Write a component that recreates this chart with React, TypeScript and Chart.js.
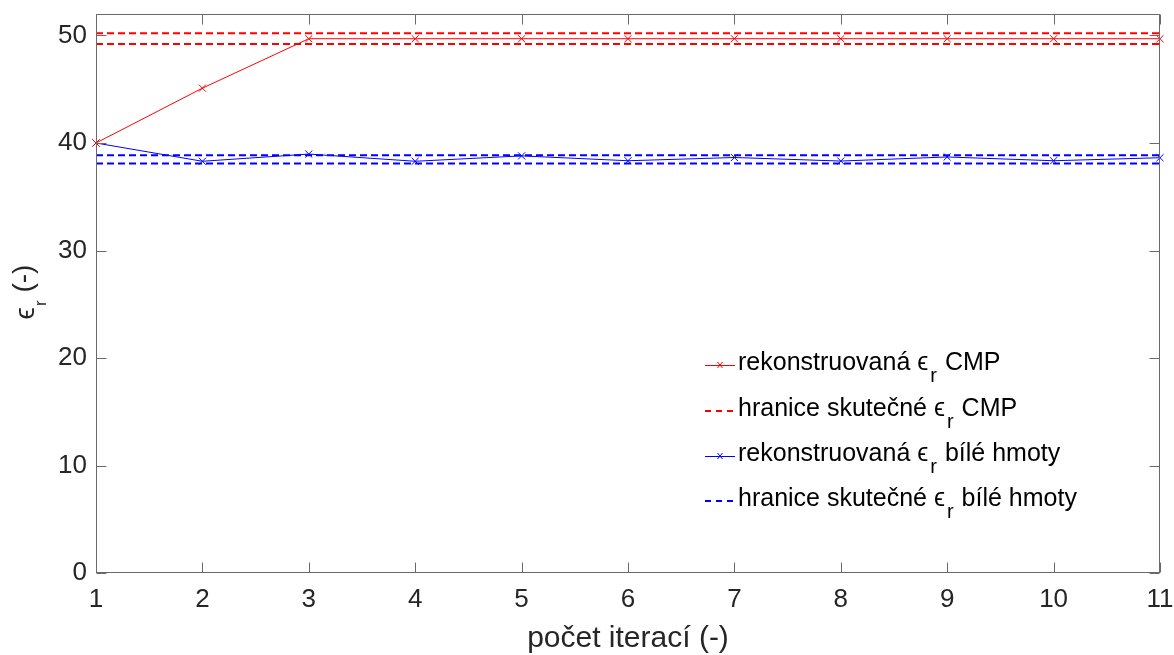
import React, { useEffect, useRef } from "react";
import { Chart, registerables } from "chart.js";
Chart.register(...registerables);

// ---- data ----
const iterations = [1, 2, 3, 4, 5, 6, 7, 8, 9, 10, 11];
const cmpReconstructed = [40, 45.1, 49.7, 49.7, 49.7, 49.7, 49.7, 49.7, 49.7, 49.7, 49.7];
const whiteReconstructed = [40, 38.3, 38.97, 38.3, 38.8, 38.35, 38.65, 38.32, 38.7, 38.35, 38.63];
const cmpBounds = [49.2, 50.2];
const whiteBounds = [38.1, 38.85];
const yTickValues = [0, 10, 20, 30, 40, 50];
const xTickValues = [1, 2, 3, 4, 5, 6, 7, 8, 9, 10, 11];
const xTitle = "počet iterací (-)";
const legendTexts = [
  ["rekonstruovaná ", " CMP"],
  ["hranice skutečné ", " CMP"],
  ["rekonstruovaná ", " bílé hmoty"],
  ["hranice skutečné ", " bílé hmoty"],
];

const RED = "rgb(255,0,0)";
const BLUE = "rgb(0,0,255)";
const FONT = '"Liberation Sans", Arial, Helvetica, sans-serif';
const TEXT = "#262626";
const AXIS = "#6a6a6a";

const boundLine = (value: number) => [
  { x: iterations[0], y: value },
  { x: iterations[iterations.length - 1], y: value },
];

const decorPlugin = {
  id: "decor",
  afterDraw(chart: any) {
    const { ctx, chartArea: a, scales } = chart;
    ctx.save();
    // frame
    ctx.strokeStyle = AXIS;
    ctx.lineWidth = 1;
    const L = Math.round(a.left) + 0.5;
    const R = Math.round(a.right) - 0.5;
    const T = Math.round(a.top) + 0.5;
    const B = Math.round(a.bottom) - 0.5;
    ctx.strokeRect(L, T, R - L, B - T);
    // inward ticks
    ctx.beginPath();
    for (const v of xTickValues) {
      const px = Math.round(scales.x.getPixelForValue(v)) + 0.5;
      ctx.moveTo(px, B);
      ctx.lineTo(px, B - 10);
      ctx.moveTo(px, T);
      ctx.lineTo(px, T + 10);
    }
    for (const v of yTickValues) {
      const py = Math.round(scales.y.getPixelForValue(v)) + 0.5;
      ctx.moveTo(L, py);
      ctx.lineTo(L + 10, py);
      ctx.moveTo(R, py);
      ctx.lineTo(R - 10, py);
    }
    ctx.stroke();

    // x title
    ctx.fillStyle = TEXT;
    ctx.font = `30px ${FONT}`;
    ctx.textAlign = "center";
    ctx.textBaseline = "alphabetic";
    ctx.fillText(xTitle, (a.left + a.right) / 2, 647);

    // y title (rotated): ϵ_r (-)
    ctx.save();
    ctx.translate(32, 292);
    ctx.rotate(-Math.PI / 2);
    ctx.textAlign = "left";
    const mainF = `28px ${FONT}`;
    const subF = `17px ${FONT}`;
    ctx.font = mainF;
    const wEps = ctx.measureText("ϵ").width;
    const wRest = ctx.measureText(" (-)").width;
    ctx.font = subF;
    const wR = ctx.measureText("r").width;
    const total = wEps + 1 + wR + wRest;
    let x = -total / 2;
    ctx.font = mainF;
    ctx.fillText("ϵ", x, 2);
    x += wEps + 1;
    ctx.font = subF;
    ctx.fillText("r", x, 14);
    x += wR;
    ctx.font = mainF;
    ctx.fillText(" (-)", x, 0);
    ctx.restore();

    // legend
    const rowsY = [365, 411, 456, 501];
    const colors = [RED, RED, BLUE, BLUE];
    const dashed = [false, true, false, true];
    for (let i = 0; i < 4; i++) {
      const y = rowsY[i];
      ctx.strokeStyle = colors[i];
      if (dashed[i]) {
        ctx.lineWidth = 2;
        ctx.setLineDash([6, 5]);
        ctx.beginPath();
        ctx.moveTo(705, y);
        ctx.lineTo(735, y);
        ctx.stroke();
        ctx.setLineDash([]);
      } else {
        ctx.lineWidth = 1;
        ctx.beginPath();
        ctx.moveTo(705, y + 0.5);
        ctx.lineTo(735, y + 0.5);
        ctx.stroke();
        ctx.beginPath();
        ctx.moveTo(717.5, y - 3);
        ctx.lineTo(722.5, y + 3);
        ctx.moveTo(722.5, y - 3);
        ctx.lineTo(717.5, y + 3);
        ctx.stroke();
      }
      ctx.fillStyle = "#000";
      ctx.textAlign = "left";
      ctx.textBaseline = "alphabetic";
      let tx = 738;
      const base = y + 5;
      ctx.font = `25px ${FONT}`;
      ctx.fillText(legendTexts[i][0], tx, base);
      tx += ctx.measureText(legendTexts[i][0]).width;
      ctx.fillText("ϵ", tx, base);
      tx += ctx.measureText("ϵ").width + 2;
      ctx.font = `20px ${FONT}`;
      ctx.fillText("r", tx, base + 12);
      tx += ctx.measureText("r").width + 1;
      ctx.font = `25px ${FONT}`;
      ctx.fillText(legendTexts[i][1], tx, base);
    }
    ctx.restore();
  },
};

export default function App() {
  const ref = useRef<HTMLCanvasElement | null>(null);
  useEffect(() => {
    if (!ref.current) return;
    const chart = new Chart(ref.current, {
      type: "line",
      data: {
        datasets: [
          {
            label: "rekonstruovaná CMP",
            data: iterations.map((x, i) => ({ x, y: cmpReconstructed[i] })),
            borderColor: RED,
            backgroundColor: RED,
            borderWidth: 1,
            pointStyle: "crossRot",
            pointRadius: 5,
            pointBorderWidth: 1,
            pointBorderColor: RED,
            tension: 0,
            clip: 6,
          },
          {
            label: "hranice CMP horní",
            data: boundLine(cmpBounds[1]),
            borderColor: RED,
            borderWidth: 2,
            borderDash: [7, 4],
            pointRadius: 0,
          },
          {
            label: "hranice CMP dolní",
            data: boundLine(cmpBounds[0]),
            borderColor: RED,
            borderWidth: 2,
            borderDash: [7, 4],
            pointRadius: 0,
          },
          {
            label: "rekonstruovaná bílé hmoty",
            data: iterations.map((x, i) => ({ x, y: whiteReconstructed[i] })),
            borderColor: BLUE,
            backgroundColor: BLUE,
            borderWidth: 1,
            pointStyle: "crossRot",
            pointRadius: 5,
            pointBorderWidth: 1,
            pointBorderColor: BLUE,
            tension: 0,
            clip: 6,
          },
          {
            label: "hranice bílé horní",
            data: boundLine(whiteBounds[1]),
            borderColor: BLUE,
            borderWidth: 2,
            borderDash: [7, 4],
            pointRadius: 0,
          },
          {
            label: "hranice bílé dolní",
            data: boundLine(whiteBounds[0]),
            borderColor: BLUE,
            borderWidth: 2,
            borderDash: [7, 4],
            pointRadius: 0,
          },
        ],
      },
      options: {
        responsive: false,
        animation: false,
        layout: { padding: { left: 0, top: 14, right: 14, bottom: 0 } },
        plugins: { legend: { display: false }, tooltip: { enabled: false } },
        scales: {
          x: {
            type: "linear",
            min: 1,
            max: 11,
            grid: { display: false, drawTicks: false, tickLength: 0 },
            border: { display: false },
            afterBuildTicks: (s: any) => {
              s.ticks = xTickValues.map((v) => ({ value: v }));
            },
            afterFit: (s: any) => {
              s.height = 82;
              s.paddingLeft = 0;
              s.paddingRight = 0;
            },
            ticks: {
              padding: 11,
              color: TEXT,
              font: { family: FONT, size: 26 },
              maxRotation: 0,
              autoSkip: false,
            },
          },
          y: {
            type: "linear",
            min: 0,
            max: 52,
            grid: { display: false, drawTicks: false, tickLength: 0 },
            border: { display: false },
            afterBuildTicks: (s: any) => {
              s.ticks = yTickValues.map((v) => ({ value: v }));
            },
            afterFit: (s: any) => {
              s.width = 96;
              s.paddingTop = 0;
              s.paddingBottom = 0;
            },
            ticks: {
              padding: 9,
              color: TEXT,
              font: { family: FONT, size: 26 },
            },
          },
        },
      },
      plugins: [decorPlugin],
    });
    return () => chart.destroy();
  }, []);
  return (
    <div style={{ position: "fixed", left: 0, top: 0, width: 1174, height: 655, background: "#fff" }}>
      <canvas ref={ref} width={1174} height={655} style={{ width: 1174, height: 655 }} />
    </div>
  );
}
